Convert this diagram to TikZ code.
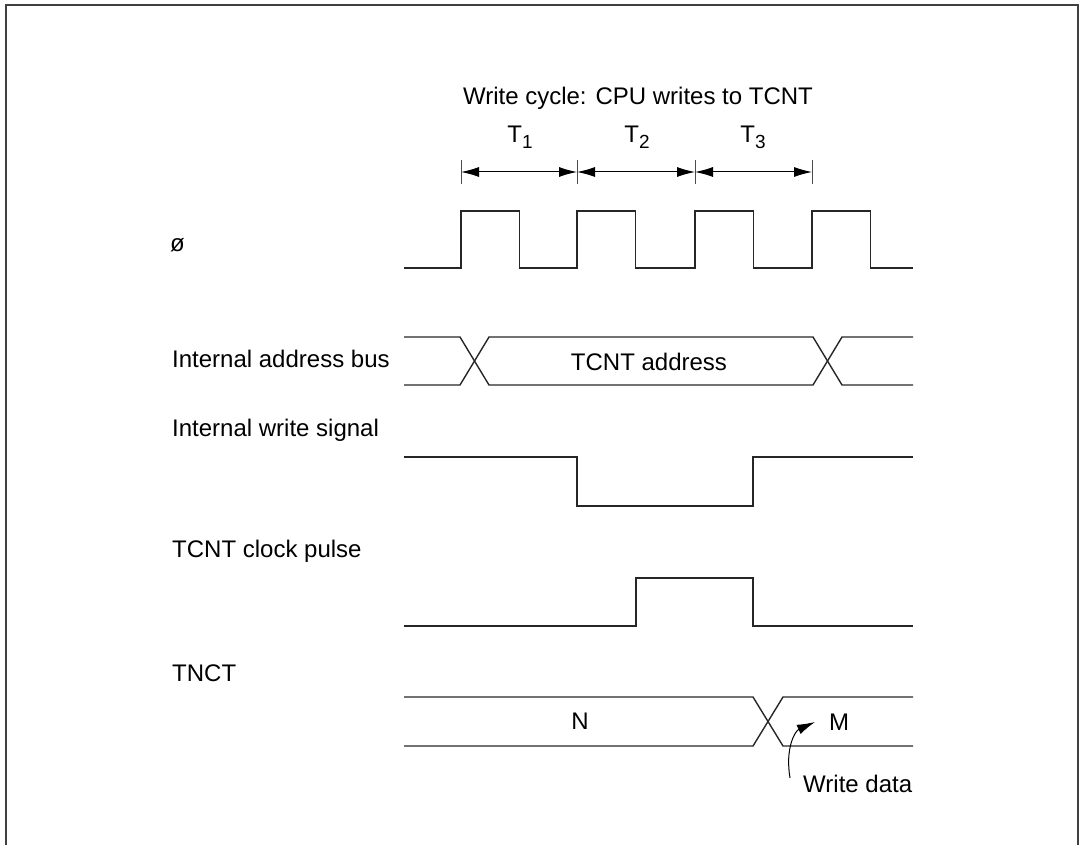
\documentclass[tikz,border=0pt]{standalone}
\usepackage{fontspec}
\setmainfont{Liberation Sans}
\usetikzlibrary{arrows.meta, positioning}

\newcommand{\Tsub}[1]{T\raisebox{-6pt}{\fontsize{19}{19}\selectfont #1}}

\begin{document}
\begin{tikzpicture}[x=1pt, y=-1pt, >={Latex[length=18pt,width=10pt]},
    every node/.style={inner sep=0pt, font=\fontsize{24}{28}\selectfont},
    wave/.style={draw=black!85, line width=1.4pt},
    siglabel/.style={anchor=west}]
  \useasboundingbox (0,0) rectangle (1082,845);

  % Frame (open at the bottom)
  \draw[black!75, line width=2pt] (6,845) -- (6,5) -- (1078,5) -- (1078,845);

  % Title
  \node (title) at (638,98) {Write cycle: CPU writes to TCNT};

  % Cycle ticks T1..T3
  \foreach \x [count=\i] in {461,577,695,812}
    \coordinate (t\i) at (\x,172);
  \foreach \i in {1,...,4}
    \draw[black!70, line width=1pt] (t\i) ++(0,-12) -- ++(0,24);
  \draw[<->, line width=1pt] (t1) -- (t2);
  \draw[<->, line width=1pt] (t2) -- (t3);
  \draw[<->, line width=1pt] (t3) -- (t4);
  \node (T1) at (520,137) {\Tsub{1}};
  \node (T2) at (637,137) {\Tsub{2}};
  \node (T3) at (753,137) {\Tsub{3}};

  % Signal names
  \node[siglabel] (phi)   at (170,245) {ø};
  \node[siglabel] (abus)  at (172,359) {Internal address bus};
  \node[siglabel] (wsig)  at (172,430) {Internal write signal};
  \node[siglabel] (clkp)  at (172,551) {TCNT clock pulse};
  \node[siglabel] (tnct)  at (172,673) {TNCT};

  % Clock
  \draw[wave] (404,268)
    \foreach \x in {461,577,695,812} { -- (\x,268) -- (\x,211) -- ++(58.5,0) -- ++(0,57) }
    -- (913,268);

  % Internal address bus
  \draw[wave] (404,337) -- (460,337) -- (489,385) -- (813,385) -- (842,337) -- (913,337);
  \draw[wave] (404,385) -- (460,385) -- (489,337) -- (813,337) -- (842,385) -- (913,385);
  \node (addr) at (649,362) {TCNT address};

  % Internal write signal
  \draw[wave] (404,457) -- (577,457) -- (577,506) -- (753,506) -- (753,457) -- (913,457);

  % TCNT clock pulse
  \draw[wave] (404,626) -- (636,626) -- (636,578) -- (753,578) -- (753,626) -- (913,626);

  % TNCT
  \draw[wave] (404,697) -- (753,697) -- (783,746) -- (913,746);
  \draw[wave] (404,746) -- (753,746) -- (783,697) -- (913,697);
  \node (valN) at (580,721) {N};
  \node (valM) at (839,722) {M};

  % Write data pointer
  \node[anchor=west] (wdata) at (803,784) {Write data};
  \coordinate (wdtail) at (790,778);
  \draw[->, line width=1pt] (wdtail) .. controls (785,748) and (795,731) .. (815,722);
\end{tikzpicture}
\end{document}
